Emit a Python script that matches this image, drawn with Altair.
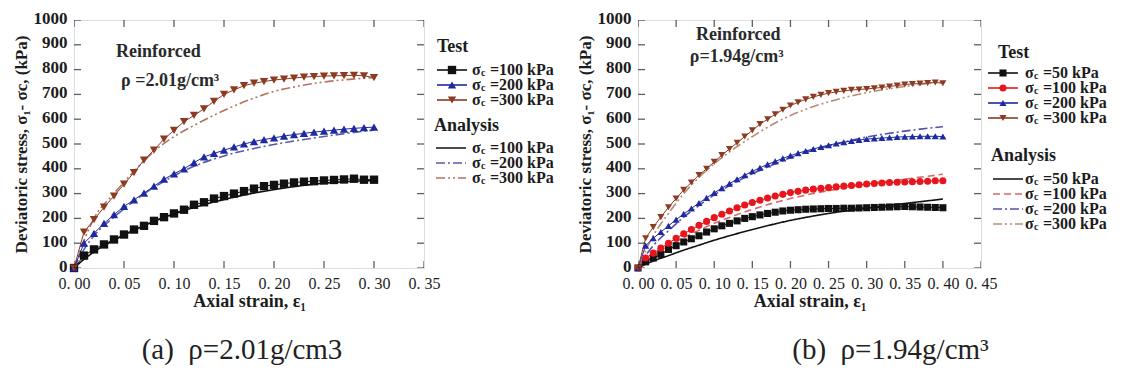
import altair as alt
import pandas as pd

# ---------------- panel (a): rho = 2.01 g/cm3 ----------------
strain_a = [0.00, 0.01, 0.02, 0.03, 0.04, 0.05, 0.06, 0.07, 0.08, 0.09, 0.10,
            0.11, 0.12, 0.13, 0.14, 0.15, 0.16, 0.17, 0.18, 0.19, 0.20,
            0.21, 0.22, 0.23, 0.24, 0.25, 0.26, 0.27, 0.28, 0.29, 0.30]
test_a_100 = [0, 50, 75, 95, 115, 135, 155, 170, 190, 205, 220, 235, 255, 265, 280, 290,
              300, 310, 320, 330, 335, 340, 345, 348, 350, 353, 355, 357, 360, 356, 356]
test_a_200 = [0, 100, 140, 180, 215, 248, 275, 302, 330, 358, 380, 400, 425, 448, 462, 475,
              488, 500, 510, 518, 525, 532, 538, 543, 548, 552, 556, 560, 563, 566, 568]
test_a_300 = [0, 145, 195, 245, 290, 338, 385, 435, 475, 520, 555, 590, 615, 642, 672, 700,
              718, 735, 745, 752, 758, 762, 766, 770, 772, 774, 775, 776, 777, 775, 768]
strain_a_an = [0.00, 0.01, 0.02, 0.04, 0.06, 0.08, 0.10, 0.12, 0.15, 0.18, 0.20, 0.22, 0.25, 0.28, 0.30]
an_a_100 = [0, 35, 65, 112, 152, 188, 218, 244, 276, 302, 316, 328, 342, 350, 353]
an_a_200 = [0, 75, 130, 205, 270, 325, 372, 410, 452, 482, 498, 512, 530, 547, 556]
an_a_300 = [0, 110, 200, 300, 390, 470, 530, 575, 635, 685, 712, 730, 750, 762, 768]
labels_a = ["100", "200", "300"]

# ---------------- panel (b): rho = 1.94 g/cm3 ----------------
strain_b = [0.00, 0.01, 0.02, 0.03, 0.04, 0.05, 0.06, 0.07, 0.08, 0.09, 0.10,
            0.11, 0.12, 0.13, 0.14, 0.15, 0.16, 0.17, 0.18, 0.19, 0.20,
            0.21, 0.22, 0.23, 0.24, 0.25, 0.26, 0.27, 0.28, 0.29, 0.30,
            0.31, 0.32, 0.33, 0.34, 0.35, 0.36, 0.37, 0.38, 0.39, 0.40]
test_b_50 = [0, 25, 40, 55, 75, 90, 105, 118, 130, 145, 158, 170, 180, 190, 200, 207, 214, 220, 225, 230,
             233, 235, 237, 238, 239, 240, 240, 241, 241, 242, 243, 244, 245, 246, 247, 248, 247, 246, 245, 244, 243]
test_b_100 = [0, 40, 60, 80, 100, 120, 138, 155, 172, 188, 203, 217, 230, 243, 254, 264, 273, 282, 290, 297,
              304, 309, 314, 318, 321, 324, 327, 330, 333, 336, 339, 341, 343, 345, 346, 347, 348, 349, 350, 352, 352]
test_b_200 = [0, 90, 120, 145, 170, 195, 218, 240, 262, 283, 303, 322, 340, 358, 374, 390, 404, 418, 430, 442,
              453, 463, 472, 480, 488, 495, 502, 507, 512, 516, 520, 522, 524, 526, 528, 529, 530, 531, 531, 531, 530]
test_b_300 = [0, 120, 165, 205, 245, 280, 315, 345, 375, 400, 428, 455, 480, 505, 530, 555, 580, 600, 620, 638,
              655, 668, 680, 690, 698, 705, 710, 714, 718, 720, 722, 725, 728, 732, 736, 740, 742, 744, 746, 748, 745]
strain_b_an = [0.00, 0.01, 0.02, 0.04, 0.06, 0.08, 0.10, 0.12, 0.15, 0.18, 0.20, 0.22, 0.25, 0.28, 0.30, 0.35, 0.40]
an_b_50 = [0, 15, 28, 50, 72, 92, 112, 130, 155, 178, 192, 204, 220, 233, 241, 260, 278]
an_b_100 = [0, 25, 48, 88, 122, 152, 180, 204, 236, 264, 280, 294, 312, 328, 338, 358, 378]
an_b_200 = [0, 50, 90, 150, 205, 252, 295, 332, 380, 420, 445, 466, 492, 515, 528, 552, 570]
an_b_300 = [0, 70, 130, 220, 300, 365, 420, 468, 530, 585, 615, 640, 670, 694, 707, 732, 750]
labels_b = ["50", "100", "200", "300"]

y_ticks = [0, 100, 200, 300, 400, 500, 600, 700, 800, 900, 1000]
x_ticks_a = [0.00, 0.05, 0.10, 0.15, 0.20, 0.25, 0.30, 0.35]
x_ticks_b = [0.00, 0.05, 0.10, 0.15, 0.20, 0.25, 0.30, 0.35, 0.40, 0.45]

# annotations: (strain, stress, text)
notes_a = [(0.042, 871, "Reinforced"), (0.047, 754, "ρ =2.01g/cm³")]
notes_b = [(0.076, 939, "Reinforced"), (0.068, 850, "ρ=1.94g/cm³")]

# ---------------- styling ----------------
FONT = "Liberation Serif"
INK = "#1c1c1c"
COL_A = {"100": "#111111", "200": "#1f2aa0", "300": "#8c3b22"}
COL_B = {"50": "#111111", "100": "#e8161c", "200": "#1f2aa0", "300": "#8c3b22"}
AN_COL_A = {"100": "#111111", "200": "#5a5aaa", "300": "#b0745e"}
AN_COL_B = {"50": "#111111", "100": "#d46a6a", "200": "#5050ae", "300": "#b88a78"}
SHAPE_A = {"100": "square", "200": "triangle-up", "300": "triangle-down"}
SHAPE_B = {"50": "square", "100": "circle", "200": "triangle-up", "300": "triangle-down"}
DASH_A = {"100": [1, 0], "200": [9, 3, 2, 3], "300": [9, 3, 2, 3, 2, 3]}
DASH_B = {"50": [1, 0], "100": [7, 4], "200": [9, 3, 2, 3], "300": [9, 3, 2, 3, 2, 3]}

ONE = pd.DataFrame({"k": [0]})
LEG_FS = 16


def panel(prefix, labels, strain_t, tests, strain_an, analyses, test_col, an_col, shapes, dashes,
          xmax, xticks, W, H, msize, notes, leg, caption, cap_dx):
    tkeys = [prefix + "T" + l for l in labels]
    akeys = [prefix + "A" + l for l in labels]
    trows = []
    for k, ser in zip(tkeys, tests):
        for s, v in zip(strain_t, ser):
            trows.append({"strain": s, "stress": v, "key": k})
    arows = []
    for k, ser in zip(akeys, analyses):
        for s, v in zip(strain_an, ser):
            arows.append({"strain": s, "stress": v, "key": k})
    tdf = pd.DataFrame(trows)
    adf = pd.DataFrame(arows)

    color = alt.Color("key:N", legend=None, scale=alt.Scale(
        domain=tkeys + akeys,
        range=[test_col[l] for l in labels] + [an_col[l] for l in labels]))
    shape = alt.Shape("key:N", legend=None, scale=alt.Scale(
        domain=tkeys, range=[shapes[l] for l in labels]))
    dash = alt.StrokeDash("key:N", legend=None, scale=alt.Scale(
        domain=akeys, range=[dashes[l] for l in labels]))

    xscale = alt.Scale(domain=[0, xmax], nice=False, zero=False)
    yscale = alt.Scale(domain=[0, 1000], nice=False)
    X = alt.X("strain:Q", scale=xscale,
              axis=alt.Axis(values=xticks, grid=False, ticks=False, tickSize=0, domain=False,
                            labelExpr="replace(format(datum.value, '.2f'), '.', '. ')",
                            labelFont=FONT, labelFontSize=16, labelColor=INK, labelPadding=7,
                            labelFlush=False, labelOverlap=False, labelSeparation=0,
                            title="Axial strain, ε₁", titleFont=FONT, titleFontSize=18,
                            titleFontWeight="bold", titleColor=INK, titlePadding=1))
    Y = alt.Y("stress:Q", scale=yscale,
              axis=alt.Axis(values=y_ticks, format="d", grid=False, ticks=False, tickSize=0,
                            domain=False, labelFont=FONT, labelFontSize=17, labelFontWeight="bold",
                            labelColor=INK, labelPadding=7, labelFlush=False, labelOverlap=False,
                            labelOffset=-2,
                            title="Deviatoric stress, σ₁- σc, (kPa)", titleFont=FONT,
                            titleFontSize=17, titleFontWeight="bold", titleColor=INK,
                            titlePadding=3))

    tlines = alt.Chart(tdf).mark_line(strokeWidth=1).encode(x=X, y=Y, color=color, detail="key:N")
    tpts = alt.Chart(tdf).mark_point(filled=True, size=msize, opacity=1).encode(
        x=X, y=Y, color=color, shape=shape)
    alines = alt.Chart(adf).mark_line(strokeWidth=1.6, interpolate="monotone").encode(
        x=X, y=Y, color=color, strokeDash=dash)

    n_y = len(y_ticks)
    n_x = len(xticks)
    tick_kw = dict(color=INK, thickness=1.3, size=14, clip=True)
    tk = [
        alt.Chart(pd.DataFrame({"stress": y_ticks, "strain": [0.0] * n_y})).mark_tick(
            orient="horizontal", **tick_kw).encode(x=X, y=Y),
        alt.Chart(pd.DataFrame({"stress": y_ticks, "strain": [xmax] * n_y})).mark_tick(
            orient="horizontal", **tick_kw).encode(x=X, y=Y),
        alt.Chart(pd.DataFrame({"strain": xticks, "stress": [0] * n_x})).mark_tick(
            orient="vertical", **tick_kw).encode(x=X, y=Y),
        alt.Chart(pd.DataFrame({"strain": xticks, "stress": [1000] * n_x})).mark_tick(
            orient="vertical", **tick_kw).encode(x=X, y=Y),
    ]

    ndf = pd.DataFrame({"strain": [n[0] for n in notes], "stress": [n[1] for n in notes],
                        "txt": [n[2] for n in notes]})
    note_layer = alt.Chart(ndf).mark_text(
        align="left", baseline="middle", font=FONT, fontSize=18, fontWeight="bold",
        color="#2a2a2a").encode(x=X, y=Y, text="txt:N")

    # ---- hand-built legend (Test / Analysis groups) ----
    lx0, lx1, lxc, ltx, lhx_t, lhx_a, y_test, y_trows, y_an, y_arows, ax0, ax1 = leg
    lg = []

    def head(txt, x, y):
        return alt.Chart(ONE).mark_text(align="left", baseline="middle", font=FONT,
                                        fontSize=LEG_FS + 2, fontWeight="bold", color=INK).encode(
            x=alt.value(x), y=alt.value(y), text=alt.value(txt))

    def label(l, y):
        return [
            alt.Chart(ONE).mark_text(align="left", baseline="middle", font=FONT, fontSize=LEG_FS,
                                     fontWeight="bold", color=INK).encode(
                x=alt.value(ltx), y=alt.value(y), text=alt.value("σ")),
            alt.Chart(ONE).mark_text(align="left", baseline="middle", font=FONT, fontSize=10,
                                     fontWeight="bold", color=INK).encode(
                x=alt.value(ltx + 9), y=alt.value(y + 3), text=alt.value("c")),
            alt.Chart(ONE).mark_text(align="left", baseline="middle", font=FONT, fontSize=LEG_FS,
                                     fontWeight="bold", color=INK).encode(
                x=alt.value(ltx + 18), y=alt.value(y), text=alt.value("=" + l + " kPa")),
        ]

    lg.append(head("Test", lhx_t, y_test))
    for l, y in zip(labels, y_trows):
        lg.append(alt.Chart(ONE).mark_rule(strokeWidth=1.6, color=test_col[l]).encode(
            x=alt.value(lx0), x2=alt.value(lx1), y=alt.value(y)))
        lg.append(alt.Chart(ONE).mark_point(filled=True, size=msize, opacity=1, shape=shapes[l],
                                           color=test_col[l]).encode(
            x=alt.value(lxc), y=alt.value(y)))
        lg.extend(label(l, y))
    lg.append(head("Analysis", lhx_a, y_an))
    for l, y in zip(labels, y_arows):
        lg.append(alt.Chart(ONE).mark_rule(strokeWidth=1.6, color=an_col[l],
                                          strokeDash=dashes[l]).encode(
            x=alt.value(ax0), x2=alt.value(ax1), y=alt.value(y)))
        lg.extend(label(l, y))

    layers = [alines, tlines, tpts] + tk + [note_layer] + lg
    return alt.layer(*layers).properties(
        width=W, height=H,
        title=alt.TitleParams(caption, orient="bottom", anchor="middle", frame="group",
                              dx=cap_dx, offset=26, font=FONT, fontSize=29,
                              fontWeight="normal", color="#222222"))


left = panel(
    "a", labels_a, strain_a, [test_a_100, test_a_200, test_a_300],
    strain_a_an, [an_a_100, an_a_200, an_a_300],
    COL_A, AN_COL_A, SHAPE_A, DASH_A, 0.35, x_ticks_a, 350, 248, 70, notes_a,
    (363, 393, 378, 398, 363, 360, 27, [50, 65, 80], 106, [128, 143, 158], 362, 392),
    "(a)\u00a0\u00a0ρ=2.01g/cm3", -7)

right = panel(
    "b", labels_b, strain_b, [test_b_50, test_b_100, test_b_200, test_b_300],
    strain_b_an, [an_b_50, an_b_100, an_b_200, an_b_300],
    COL_B, AN_COL_B, SHAPE_B, DASH_B, 0.45, x_ticks_b, 343, 248, 50, notes_b,
    (350, 380, 365, 387, 360, 353, 33, [53, 68, 83, 98], 136, [159, 174, 189, 204], 355, 385),
    "(b)\u00a0\u00a0ρ=1.94g/cm³", 81)

chart = alt.hconcat(left, right, spacing=20).resolve_scale(
    color="independent", shape="independent", strokeDash="independent",
    x="independent", y="independent"
).properties(
    padding={"left": 3, "top": 0, "right": 0, "bottom": 0}
).configure_view(
    stroke=INK, strokeWidth=1.4
).configure(background="white")

chart.save("out.html", embed_options={"renderer": "svg", "actions": False})
